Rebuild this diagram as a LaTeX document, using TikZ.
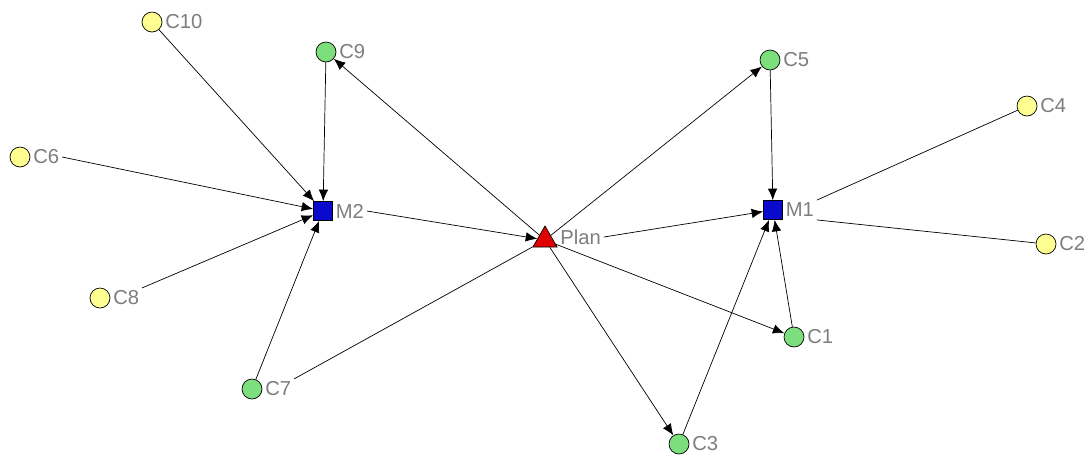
\documentclass[tikz,border=0pt]{standalone}
\usepackage{fontspec}
\setmainfont{Liberation Sans}
\usetikzlibrary{arrows.meta,shapes.geometric}
\definecolor{cyel}{RGB}{255,255,145}
\definecolor{cgrn}{RGB}{125,222,125}
\definecolor{cblu}{RGB}{10,10,205}
\definecolor{cred}{RGB}{225,0,0}
\definecolor{cgry}{RGB}{125,125,125}

\begin{document}
\begin{tikzpicture}[x=0.02cm,y=-0.02cm]
\tikzstyle{every node}=[inner sep=0pt]
\tikzstyle{vyel}=[circle,draw,fill=cyel,minimum size=0.4cm]
\tikzstyle{vgrn}=[circle,draw,fill=cgrn,minimum size=0.4cm]
\tikzstyle{vsq}=[rectangle,draw,fill=cblu,minimum size=0.38cm]
\tikzstyle{vtri}=[regular polygon,regular polygon sides=3,draw,fill=cred,minimum size=0.56cm]
\tikzstyle{lbl}=[anchor=west,text=cgry,font=\fontsize{11.5}{13}\selectfont,inner sep=1.5pt]
\tikzstyle{arc}=[-{Latex[length=2.3mm,width=1.9mm]}]
\useasboundingbox (0,0) rectangle (1091,458);
% vertices
\draw (152,22) node (C10) [vyel] {};
\draw (326,52) node (C9) [vgrn] {};
\draw (20,157) node (C6) [vyel] {};
\draw (323,211) node (M2) [vsq] {};
\draw (100,298) node (C8) [vyel] {};
\draw (252,389) node (C7) [vgrn] {};
\draw (545,240) node (Plan) [vtri] {};
\draw (770,60) node (C5) [vgrn] {};
\draw (1027,106) node (C4) [vyel] {};
\draw (773,210) node (M1) [vsq] {};
\draw (1046,244) node (C2) [vyel] {};
\draw (794,337) node (C1) [vgrn] {};
\draw (679,444) node (C3) [vgrn] {};
% labels
\draw (C10.east) node (C10l) [lbl] {C10};
\draw (C9.east) node (C9l) [lbl] {C9};
\draw (C6.east) node (C6l) [lbl] {C6};
\draw (M2.east) node (M2l) [lbl] {M2};
\draw (C8.east) node (C8l) [lbl] {C8};
\draw (C7.east) node (C7l) [lbl] {C7};
\draw (Plan.east) ++(4,-3) node (Planl) [lbl] {Plan};
\draw (C5.east) node (C5l) [lbl] {C5};
\draw (C4.east) node (C4l) [lbl] {C4};
\draw (M1.east) node (M1l) [lbl] {M1};
\draw (C2.east) node (C2l) [lbl] {C2};
\draw (C1.east) node (C1l) [lbl] {C1};
\draw (C3.east) node (C3l) [lbl] {C3};
% ties
\draw [arc] (C10) -- (M2);
\draw [arc] (C9) -- (M2);
\draw [arc] (C6l.east) -- (M2);
\draw [arc] (C8l.north east) -- (M2);
\draw [arc] (C7) -- (M2);
\draw [arc] (M2l.east) -- (Plan);
\draw [arc] (Plan) -- (C9);
\draw (C7l.north east) -- (Plan);
\draw [arc] (Plan) -- (C5);
\draw [arc] (Planl.east) -- (M1);
\draw [arc] (Plan) -- (C1);
\draw [arc] (Plan) -- (C3);
\draw [arc] (C5) -- (M1);
\draw [arc] (C1) -- (M1);
\draw [arc] (C3) -- (M1);
\draw (M1l.north east) -- (C4);
\draw (M1l.south east) -- (C2);
\end{tikzpicture}
\end{document}
